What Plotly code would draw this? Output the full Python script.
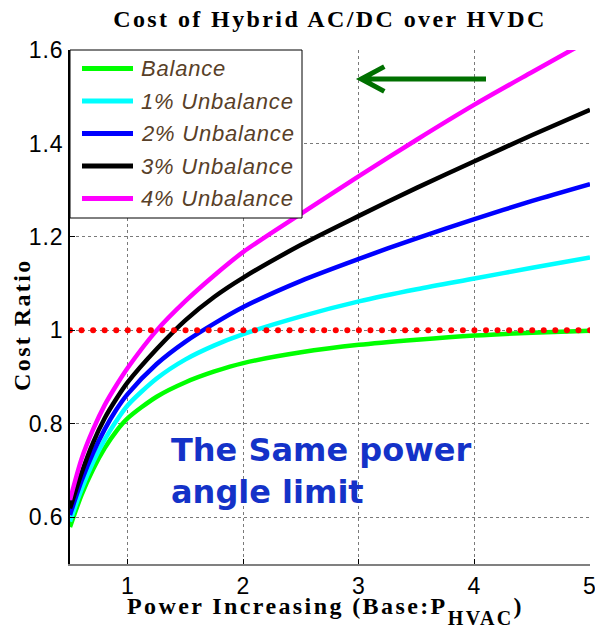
import numpy as np
import plotly.graph_objects as go

# Power (base: P_HVAC) and cost ratio of hybrid AC/DC over HVDC
power = [0.5, 0.6, 0.7, 0.8, 0.9, 1.0, 1.25, 1.5, 1.75, 2.0, 2.5, 3.0, 3.5, 4.0, 4.5, 5.0]

balance = [0.579, 0.648, 0.703, 0.748, 0.784, 0.812, 0.858, 0.889, 0.912, 0.930,
           0.953, 0.969, 0.980, 0.989, 0.995, 0.999]
unbalance_1 = [0.591, 0.660, 0.718, 0.766, 0.806, 0.840, 0.897, 0.938, 0.968, 0.992,
               1.030, 1.062, 1.088, 1.111, 1.134, 1.156]
unbalance_2 = [0.605, 0.678, 0.738, 0.788, 0.830, 0.864, 0.928, 0.976, 1.015, 1.050,
               1.106, 1.153, 1.197, 1.238, 1.277, 1.313]
unbalance_3 = [0.619, 0.695, 0.760, 0.812, 0.853, 0.889, 0.960, 1.022, 1.072, 1.113,
               1.183, 1.245, 1.305, 1.362, 1.418, 1.472]
unbalance_4 = [0.637, 0.725, 0.788, 0.840, 0.882, 0.920, 1.000, 1.063, 1.118, 1.168,
               1.250, 1.330, 1.408, 1.483, 1.553, 1.622]

series_names = ["Balance", "1% Unbalance", "2% Unbalance", "3% Unbalance", "4% Unbalance"]
series_values = [balance, unbalance_1, unbalance_2, unbalance_3, unbalance_4]
series_colors = ["#00FF00", "#00FFFF", "#0000FF", "#000000", "#FF00FF"]

# unity cost-ratio reference, sampled every 0.1
ref_x = [round(v, 1) for v in np.arange(0.5, 5.0001, 0.1)]
ref_y = [1.0] * len(ref_x)

x_ticks = [1, 2, 3, 4, 5]
x_tick_labels = ["1", "2", "3", "4", "5"]
y_ticks = [0.6, 0.8, 1.0, 1.2, 1.4, 1.6]
y_tick_labels = ["0.6", "0.8", "1", "1.2", "1.4", "1.6"]

X_RANGE = [0.5, 5.0]
Y_RANGE = [0.5, 1.6]

W, H = 595, 628
M_L, M_R, M_T, M_B = 70, 5, 50, 64
PW, PH = W - M_L - M_R, H - M_T - M_B

SANS = "Liberation Sans, Arial, sans-serif"
SERIF = "Liberation Serif, Times New Roman, serif"
LEGEND_TEXT = "#584028"


def px_x(p):
    return (p - M_L) / PW


def px_y(p):
    return (M_T + PH - p) / PH


def spaced(text, gap):
    return f'<span style="letter-spacing:{gap}px">{text}</span>'


fig = go.Figure()

for name, vals, col in zip(series_names, series_values, series_colors):
    fig.add_trace(go.Scatter(
        x=power, y=vals, name=name, mode="lines",
        line=dict(color=col, width=4.5, shape="spline", smoothing=0.8),
        showlegend=False,
    ))

fig.add_trace(go.Scatter(
    x=ref_x, y=ref_y, mode="markers", name="Unity",
    marker=dict(color="#FF0000", size=6, line=dict(width=0)),
    showlegend=False,
))

axis_font = dict(family=SANS, size=23, color="#000000")

fig.update_layout(
    width=W, height=H,
    margin=dict(l=M_L, r=M_R, t=M_T, b=M_B, autoexpand=False),
    paper_bgcolor="white", plot_bgcolor="white",
    showlegend=False,
    title=dict(
        text=spaced("Cost of Hybrid AC/DC over HVDC", 2.4),
        font=dict(family=SERIF, size=24, color="#000000", weight="bold"),
        x=0.5, xref="paper", xanchor="center",
        y=1 - 19 / H, yref="container", yanchor="middle",
    ),
    xaxis=dict(
        range=X_RANGE, tickvals=x_ticks,
        ticktext=[spaced(t, 1) for t in x_tick_labels],
        tickfont=axis_font, ticks="inside", ticklen=5, tickcolor="#000000",
        ticklabeloverflow="allow", automargin=False,
        showline=True, linecolor="#808080", linewidth=2,
        showgrid=True, gridcolor="#7a7a7a", griddash="dot", gridwidth=1,
        zeroline=False,
    ),
    yaxis=dict(
        range=Y_RANGE, tickvals=y_ticks,
        ticktext=[spaced(t, 1) for t in y_tick_labels],
        tickfont=axis_font, ticks="inside", ticklen=5, tickcolor="#000000",
        ticklabeloverflow="allow", automargin=False,
        showline=True, linecolor="#000000", linewidth=1.5,
        showgrid=True, gridcolor="#7a7a7a", griddash="dot", gridwidth=1,
        zeroline=False,
    ),
    xaxis2=dict(
        range=X_RANGE, overlaying="x", side="top", tickvals=x_ticks,
        showticklabels=False, ticks="inside", ticklen=5, tickcolor="#000000",
        showline=True, linecolor="#c0c0c0", linewidth=1, automargin=False,
        showgrid=False, zeroline=False,
    ),
    yaxis2=dict(
        range=Y_RANGE, overlaying="y", side="right", tickvals=y_ticks,
        showticklabels=False, ticks="inside", ticklen=5, tickcolor="#000000",
        showline=True, linecolor="#c0c0c0", linewidth=1, automargin=False,
        showgrid=False, zeroline=False,
    ),
)

# direction arrow in the upper plot area
arrow_tip = (3.02, 1.538)
arrow_tail = (4.1, 1.538)
arm_dx, arm_dy = 0.2, 0.0265
arrow_path = (
    f"M {arrow_tail[0]},{arrow_tail[1]} L {arrow_tip[0]},{arrow_tip[1]} "
    f"M {arrow_tip[0] + arm_dx},{arrow_tip[1] + arm_dy} L {arrow_tip[0]},{arrow_tip[1]} "
    f"L {arrow_tip[0] + arm_dx},{arrow_tip[1] - arm_dy}"
)
fig.add_shape(type="path", path=arrow_path, xref="x", yref="y",
              line=dict(color="#007000", width=5), layer="above")

# legend box drawn over the curves
fig.add_shape(type="rect", xref="paper", yref="paper",
              x0=0, x1=px_x(302), y0=px_y(218), y1=1,
              fillcolor="white", line=dict(color="#000000", width=1), layer="above")
row0, row_step = 68.5, 32.5
for i, (name, col) in enumerate(zip(series_names, series_colors)):
    ry = px_y(row0 + i * row_step)
    fig.add_shape(type="line", xref="paper", yref="paper",
                  x0=px_x(82), x1=px_x(133), y0=ry, y1=ry,
                  line=dict(color=col, width=5), layer="above")
    fig.add_annotation(text=spaced(name, 0.8), xref="paper", yref="paper",
                       x=px_x(139), y=ry, xanchor="left", yanchor="middle",
                       showarrow=False,
                       font=dict(family=SANS, size=22, color=LEGEND_TEXT, style="italic"))

# axis titles
fig.add_annotation(
    text=spaced("Cost Ratio", 2.4),
    xref="paper", yref="paper", x=px_x(22), y=px_y(325),
    xanchor="center", yanchor="middle", textangle=-90, showarrow=False,
    font=dict(family=SERIF, size=24, color="#000000", weight="bold"),
)
fig.add_annotation(
    text=spaced('Power Increasing (Base:P'
                '<sub><span style="font-size:20px;baseline-shift:-6px">HVAC</span></sub>)', 2.4),
    xref="paper", yref="paper", x=px_x(325), y=px_y(591),
    xanchor="center", yanchor="top", showarrow=False,
    font=dict(family=SERIF, size=24, color="#000000", weight="bold"),
)

# note inside the plot
fig.add_annotation(
    text="The Same power<br>angle limit",
    xref="x", yref="y", x=1.36, y=0.70,
    xanchor="left", yanchor="middle", align="left", showarrow=False,
    font=dict(family="DejaVu Sans, sans-serif", size=32, color="#1432C8", weight="bold"),
)

fig.write_html("out.html")
